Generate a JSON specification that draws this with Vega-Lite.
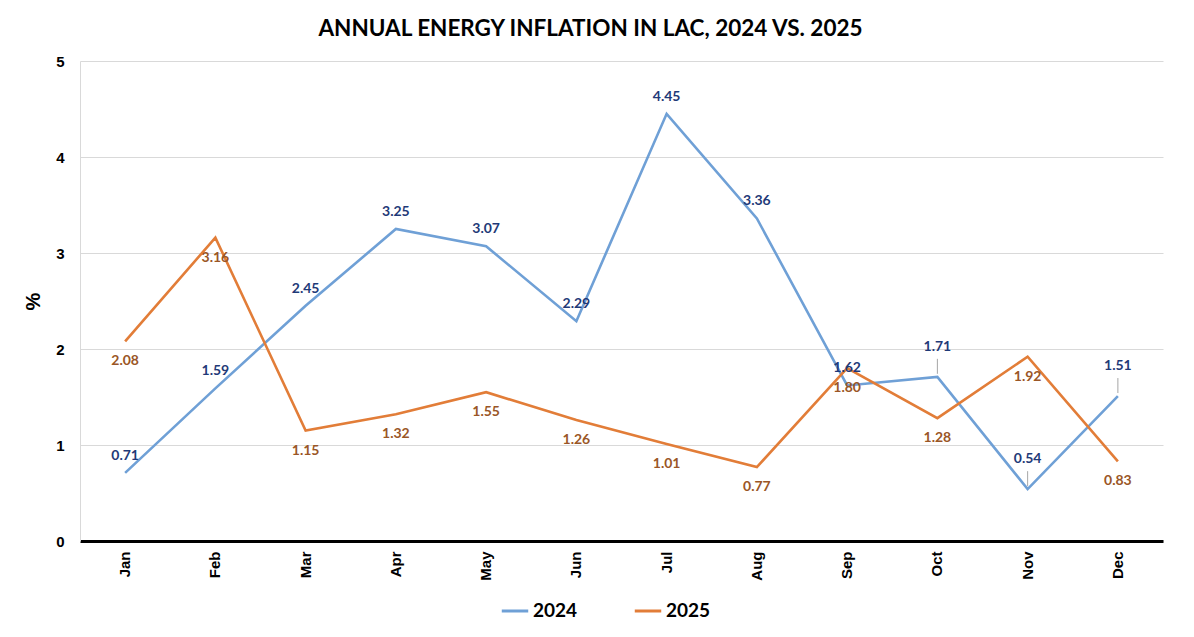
{
  "$schema": "https://vega.github.io/schema/vega-lite/v6.json",
  "autosize": {"type": "none"},
  "width": 1083,
  "height": 480,
  "padding": {"left": 80, "top": 61, "right": 31, "bottom": 96},
  "background": "white",
  "config": {
    "view": {"stroke": null},
    "font": "Lato"
  },
  "title": {
    "text": "ANNUAL ENERGY INFLATION IN LAC, 2024 VS. 2025",
    "font": "Lato",
    "fontSize": 22.5,
    "fontWeight": "bold",
    "color": "#000000",
    "anchor": "middle",
    "offset": 14,
    "dx": -31
  },
  "data": {
    "values": [
      {"month": "Jan", "year": "2024", "value": 0.71},
      {"month": "Feb", "year": "2024", "value": 1.59},
      {"month": "Mar", "year": "2024", "value": 2.45},
      {"month": "Apr", "year": "2024", "value": 3.25},
      {"month": "May", "year": "2024", "value": 3.07},
      {"month": "Jun", "year": "2024", "value": 2.29},
      {"month": "Jul", "year": "2024", "value": 4.45},
      {"month": "Aug", "year": "2024", "value": 3.36},
      {"month": "Sep", "year": "2024", "value": 1.62},
      {"month": "Oct", "year": "2024", "value": 1.71},
      {"month": "Nov", "year": "2024", "value": 0.54},
      {"month": "Dec", "year": "2024", "value": 1.51},
      {"month": "Jan", "year": "2025", "value": 2.08},
      {"month": "Feb", "year": "2025", "value": 3.16},
      {"month": "Mar", "year": "2025", "value": 1.15},
      {"month": "Apr", "year": "2025", "value": 1.32},
      {"month": "May", "year": "2025", "value": 1.55},
      {"month": "Jun", "year": "2025", "value": 1.26},
      {"month": "Jul", "year": "2025", "value": 1.01},
      {"month": "Aug", "year": "2025", "value": 0.77},
      {"month": "Sep", "year": "2025", "value": 1.80},
      {"month": "Oct", "year": "2025", "value": 1.28},
      {"month": "Nov", "year": "2025", "value": 1.92},
      {"month": "Dec", "year": "2025", "value": 0.83}
    ]
  },
  "encoding": {
    "x": {
      "field": "month",
      "type": "nominal",
      "sort": ["Jan","Feb","Mar","Apr","May","Jun","Jul","Aug","Sep","Oct","Nov","Dec"],
      "axis": {
        "title": null,
        "labelAngle": 270,
        "labelFont": "Liberation Sans",
        "labelFontWeight": "bold",
        "labelFontSize": 15,
        "labelColor": "#000000",
        "labelPadding": 10,
        "ticks": false,
        "domainColor": "#000000",
        "domainWidth": 3,
        "grid": false
      }
    },
    "y": {
      "field": "value",
      "type": "quantitative",
      "scale": {"domain": [0, 5], "nice": false},
      "axis": {
        "title": "%",
        "titleFont": "Liberation Sans",
        "titleFontSize": 20,
        "titleFontWeight": "bold",
        "titleColor": "#000000",
        "titlePadding": 12,
        "values": [0, 1, 2, 3, 4, 5],
        "format": "d",
        "labelFont": "Liberation Sans",
        "labelFontWeight": "bold",
        "labelFontSize": 15,
        "labelColor": "#000000",
        "labelPadding": 16,
        "ticks": false,
        "domain": true,
        "domainColor": "#D9D9D9",
        "domainWidth": 1,
        "gridColor": "#D9D9D9",
        "gridWidth": 1
      }
    }
  },
  "layer": [
    {
      "mark": {"type": "line", "strokeWidth": 2.6},
      "encoding": {
        "color": {
          "field": "year",
          "type": "nominal",
          "scale": {"domain": ["2024", "2025"], "range": ["#6FA0D6", "#E27D38"]},
          "legend": {
            "title": null,
            "orient": "none",
            "legendX": 420,
            "legendY": 535,
            "direction": "horizontal",
            "symbolType": "stroke",
            "symbolSize": 700,
            "symbolStrokeWidth": 3,
            "labelFont": "Lato",
            "labelFontSize": 19,
            "labelFontWeight": "bold",
            "labelColor": "#000000",
            "labelOffset": 3,
            "columnPadding": 50
          }
        }
      }
    },
    {
      "transform": [{"filter": {"field": "year", "oneOf": ["2024"]}}, {"filter": {"field": "month", "oneOf": ["Oct", "Nov", "Dec"]}}],
      "mark": {"type": "rule", "color": "#A6A6A6", "strokeWidth": 1, "yOffset": -3, "y2Offset": -18},
      "encoding": {"y2": {"field": "value"}}
    },
    {
      "transform": [{"filter": {"field": "year", "oneOf": ["2024"]}}, {"filter": {"not": {"field": "month", "oneOf": ["Oct", "Nov", "Dec"]}}}],
      "mark": {"type": "text", "dy": -17, "baseline": "middle", "fontSize": 14, "fontWeight": "bold", "font": "Lato", "color": "#1F3A78"},
      "encoding": {"text": {"field": "value", "type": "quantitative", "format": ".2f"}}
    },
    {
      "transform": [{"filter": {"field": "year", "oneOf": ["2024"]}}, {"filter": {"field": "month", "oneOf": ["Oct", "Nov", "Dec"]}}],
      "mark": {"type": "text", "dy": -30, "baseline": "middle", "fontSize": 14, "fontWeight": "bold", "font": "Lato", "color": "#1F3A78"},
      "encoding": {"text": {"field": "value", "type": "quantitative", "format": ".2f"}}
    },
    {
      "transform": [{"filter": {"field": "year", "oneOf": ["2025"]}}],
      "mark": {"type": "text", "dy": 20, "baseline": "middle", "fontSize": 14, "fontWeight": "bold", "font": "Lato", "color": "#9A5626"},
      "encoding": {"text": {"field": "value", "type": "quantitative", "format": ".2f"}}
    }
  ]
}
